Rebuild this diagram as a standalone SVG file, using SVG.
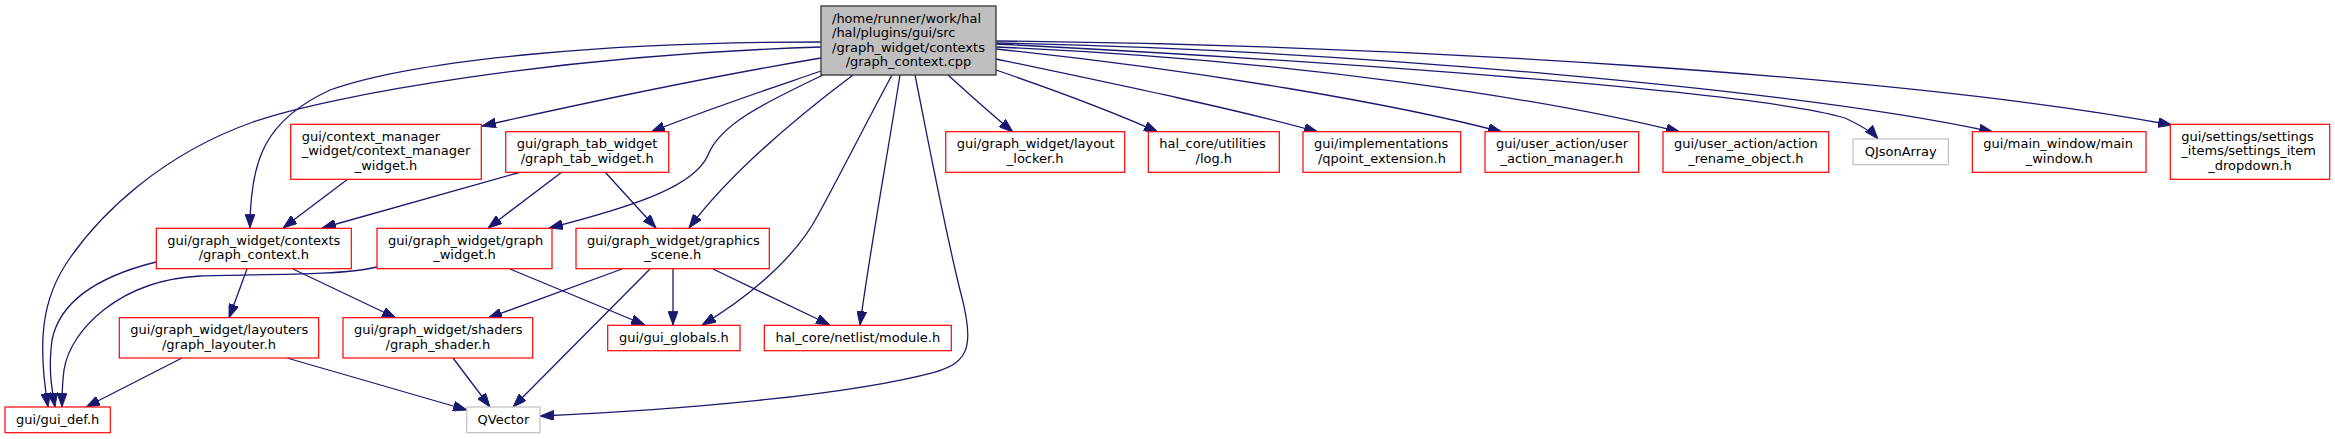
<svg xmlns="http://www.w3.org/2000/svg" width="2335" height="439" viewBox="0 0 2335 439">
<style>
.bg{fill:#ffffff}
.n rect{fill:#ffffff;stroke:#ff0000;stroke-width:1.2}
.n.g rect{stroke:#bfbfbf}
.n.root rect{fill:#bfbfbf;stroke:#404040;stroke-width:1.4}
.n text{font-family:"DejaVu Sans",sans-serif;font-size:13px;fill:#000000}
.n text.m{text-anchor:middle}
.e path{fill:none;stroke:#191970;stroke-width:1.3;marker-end:url(#ah)}
</style>
<defs>
<marker id="ah" markerUnits="userSpaceOnUse" markerWidth="14" markerHeight="10" viewBox="0 0 13 9.4" refX="13" refY="4.7" orient="auto">
<path d="M0,0 L13,4.7 L0,9.4 z" fill="#191970" stroke="#191970" stroke-width="0.8"/>
</marker>
</defs>
<rect class="bg" x="0" y="0" width="2335" height="439"/>
<g id="edges" class="e">
<path d="M821,42 C620,42 420,58 330,90 C265,120 250,160 250,228"/>
<path d="M821,47 C560,55 330,95 253,122 C160,155 100,215 70,258 C40,300 38,345 48,407"/>
<path d="M821,58 C720,75 580,104 482,126"/>
<path d="M821,71 C760,92 700,112 651,132"/>
<path d="M823,75 C760,105 720,125 708,155 C695,185 640,205 549,228"/>
<path d="M853,75 Q740,160 689,228"/>
<path d="M892,75 C865,125 840,175 818,215 C800,250 760,290 702,325"/>
<path d="M900,75 C885,170 870,250 860,325"/>
<path d="M915,75 C930,150 945,230 960,290 C975,345 970,362 935,372 C850,395 680,410 540,416"/>
<path d="M948,75 C970,95 990,113 1013,132"/>
<path d="M996,70 C1060,92 1120,115 1158,132"/>
<path d="M996,59 C1120,85 1240,110 1318,132"/>
<path d="M996,49 C1200,70 1400,105 1502,132"/>
<path d="M996,47 C1300,60 1550,100 1680,132"/>
<path d="M996,44 C1350,62 1760,92 1845,118 C1862,126 1872,132 1878,139"/>
<path d="M996,43 C1350,50 1800,90 1993,132"/>
<path d="M996,41 C1400,45 1900,75 2172,125"/>
<path d="M348,179 L283,228"/>
<path d="M521,172 L322,228"/>
<path d="M562,172 L488,228"/>
<path d="M605,172 L656,228"/>
<path d="M156,262 C100,276 60,300 52,340 C48,370 52,390 55,407"/>
<path d="M377,267 C340,276 260,274 200,276 C120,280 70,330 64,370 C62,385 62,395 62,407"/>
<path d="M247,269 L229,318"/>
<path d="M293,269 L396,318"/>
<path d="M510,269 L645,325"/>
<path d="M622,269 L488,318"/>
<path d="M650,269 L513,407"/>
<path d="M673,269 L673,325"/>
<path d="M713,269 L830,325"/>
<path d="M182,358 L86,407"/>
<path d="M287,358 L467,410"/>
<path d="M453,358 L490,407"/>
</g>
<g id="root" class="n root"><rect x="821" y="6" width="175" height="69"/>
<text x="832" y="22.5">/home/runner/work/hal</text><text x="832" y="37">/hal/plugins/gui/src</text><text x="832" y="51.5">/graph_widget/contexts</text><text class="m" x="908.5" y="66">/graph_context.cpp</text></g>
<g id="ctxmgr" class="n"><rect x="290.7" y="124.3" width="190.6" height="55"/>
<text x="301.7" y="140.8">gui/context_manager</text><text x="301.7" y="155.3">_widget/context_manager</text><text class="m" x="386" y="169.8">_widget.h</text></g>
<g id="graphtab" class="n"><rect x="505.7" y="131.7" width="163" height="40.6"/>
<text x="516.7" y="148.2">gui/graph_tab_widget</text><text class="m" x="587.2" y="162.7">/graph_tab_widget.h</text></g>
<g id="layoutlocker" class="n"><rect x="945.7" y="131.7" width="179" height="40.6"/>
<text x="956.7" y="148.2">gui/graph_widget/layout</text><text class="m" x="1035.2" y="162.7">_locker.h</text></g>
<g id="log" class="n"><rect x="1148.3" y="131.7" width="131" height="40.6"/>
<text x="1159.3" y="148.2">hal_core/utilities</text><text class="m" x="1213.8" y="162.7">/log.h</text></g>
<g id="qpoint" class="n"><rect x="1303" y="131.7" width="157.7" height="40.6"/>
<text x="1314" y="148.2">gui/implementations</text><text class="m" x="1381.9" y="162.7">/qpoint_extension.h</text></g>
<g id="uam" class="n"><rect x="1485" y="131.7" width="153.7" height="40.6"/>
<text x="1496" y="148.2">gui/user_action/user</text><text class="m" x="1561.9" y="162.7">_action_manager.h</text></g>
<g id="rename" class="n"><rect x="1663" y="131.7" width="165.7" height="40.6"/>
<text x="1674" y="148.2">gui/user_action/action</text><text class="m" x="1745.9" y="162.7">_rename_object.h</text></g>
<g id="qjson" class="n g"><rect x="1853" y="139" width="95.3" height="25.7"/>
<text class="m" x="1900.7" y="155.5">QJsonArray</text></g>
<g id="mainwin" class="n"><rect x="1972.3" y="131.7" width="173.7" height="40.6"/>
<text x="1983.3" y="148.2">gui/main_window/main</text><text class="m" x="2059.2" y="162.7">_window.h</text></g>
<g id="settings" class="n"><rect x="2170.3" y="124.3" width="159.4" height="55"/>
<text x="2181.3" y="140.8">gui/settings/settings</text><text x="2181.3" y="155.3">_items/settings_item</text><text class="m" x="2250" y="169.8">_dropdown.h</text></g>
<g id="graphcontext" class="n"><rect x="156.3" y="228.3" width="195" height="40.4"/>
<text x="167.3" y="244.8">gui/graph_widget/contexts</text><text class="m" x="253.8" y="259.3">/graph_context.h</text></g>
<g id="graphwidget" class="n"><rect x="377" y="228.3" width="175" height="40.4"/>
<text x="388" y="244.8">gui/graph_widget/graph</text><text class="m" x="464.5" y="259.3">_widget.h</text></g>
<g id="graphicsscene" class="n"><rect x="576" y="228.3" width="193.3" height="40.4"/>
<text x="587" y="244.8">gui/graph_widget/graphics</text><text class="m" x="672.7" y="259.3">_scene.h</text></g>
<g id="layouter" class="n"><rect x="119.3" y="317.7" width="199.4" height="40.3"/>
<text x="130.3" y="334.2">gui/graph_widget/layouters</text><text class="m" x="219" y="348.7">/graph_layouter.h</text></g>
<g id="shader" class="n"><rect x="343" y="317.7" width="189.7" height="40.3"/>
<text x="354" y="334.2">gui/graph_widget/shaders</text><text class="m" x="437.9" y="348.7">/graph_shader.h</text></g>
<g id="guiglobals" class="n"><rect x="607.7" y="325.3" width="132.3" height="25.4"/>
<text class="m" x="673.9" y="341.8">gui/gui_globals.h</text></g>
<g id="module" class="n"><rect x="764.3" y="325.3" width="187" height="25.4"/>
<text class="m" x="857.8" y="341.8">hal_core/netlist/module.h</text></g>
<g id="guidef" class="n"><rect x="5" y="407" width="105.3" height="25.7"/>
<text class="m" x="57.7" y="423.5">gui/gui_def.h</text></g>
<g id="qvector" class="n g"><rect x="466.7" y="407" width="73.3" height="25.7"/>
<text class="m" x="503.4" y="423.5">QVector</text></g>
</svg>
